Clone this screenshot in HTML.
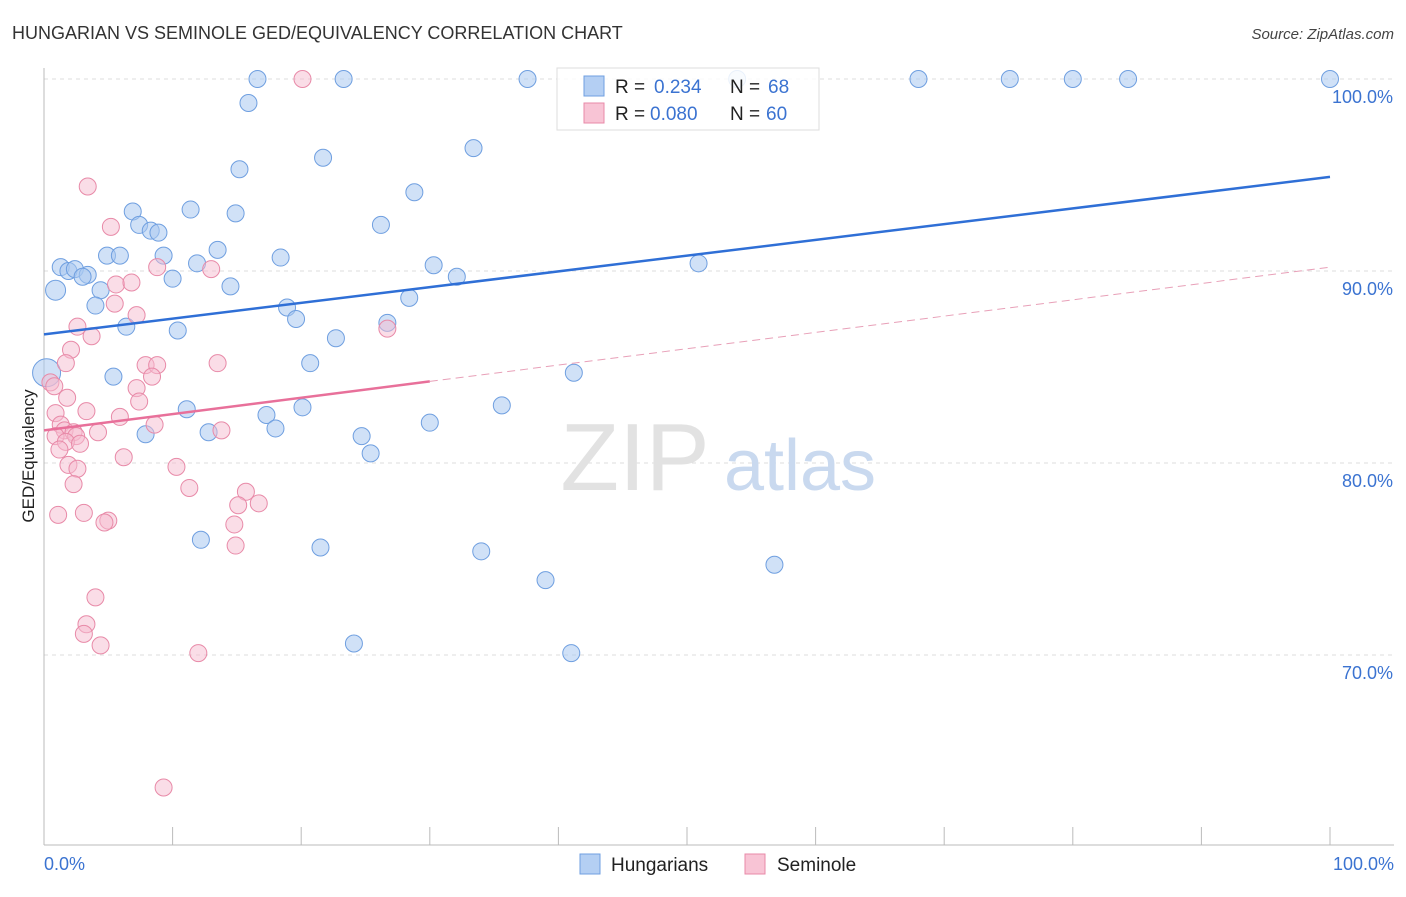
<!DOCTYPE html>
<html><head><meta charset="utf-8"><style>
body{margin:0;background:#fff;font-family:"Liberation Sans",sans-serif;}
svg text{font-family:"Liberation Sans",sans-serif;}
</style></head><body>
<svg id="chart" width="1406" height="892">
<text x="12" y="39" font-size="18" fill="#333">HUNGARIAN VS SEMINOLE GED/EQUIVALENCY CORRELATION CHART</text>
<text x="1394" y="39" font-size="15" fill="#444" text-anchor="end" font-style="italic">Source: ZipAtlas.com</text>
<g id="grid"></g>
<text x="635" y="490" font-size="96" fill="#e2e2e2" font-family="Liberation Serif" text-anchor="middle">ZIP</text>
<text x="800" y="490" font-size="72" fill="#c9d9ef" text-anchor="middle">atlas</text>
<g id="points"></g>
<g id="lines"></g>
<text x="34" y="456" font-size="17" fill="#222" text-anchor="middle" transform="rotate(-90 34 456)">GED/Equivalency</text>
<g>
<rect x="557" y="68" width="262" height="62" fill="#fff" fill-opacity="0.85" stroke="#ddd"/>
<rect x="584" y="76" width="20" height="20" fill="#b4cff3" stroke="#6f9fe0"/>
<rect x="584" y="103" width="20" height="20" fill="#f8c4d5" stroke="#e88aa8"/>
<text x="615" y="93" font-size="19" fill="#222">R = </text><text x="654" y="93" font-size="19" fill="#3b73d1">0.234</text>
<text x="730" y="93" font-size="19" fill="#222">N = </text><text x="768" y="93" font-size="19" fill="#3b73d1">68</text>
<text x="615" y="120" font-size="19" fill="#222">R = </text><text x="650" y="120" font-size="19" fill="#3b73d1">0.080</text>
<text x="730" y="120" font-size="19" fill="#222">N = </text><text x="766" y="120" font-size="19" fill="#3b73d1">60</text>
</g>
<g>
<rect x="580" y="854" width="20" height="20" fill="#b4cff3" stroke="#6f9fe0"/>
<text x="611" y="871" font-size="19" fill="#222">Hungarians</text>
<rect x="745" y="854" width="20" height="20" fill="#f8c4d5" stroke="#e88aa8"/>
<text x="777" y="871" font-size="19" fill="#222">Seminole</text>
</g>
</svg>
<script>
const yTicks=[100,90,80,70];
const xTickLabels=["0.0%","100.0%"];
const hunX=[16.6,23.3,37.6,53.9,68.0,75.1,80.0,84.3,100,15.9,33.4,21.7,15.2,28.8,6.9,11.4,14.9,7.4,26.2,8.3,8.9,13.5,4.9,5.9,9.3,18.4,1.3,1.9,2.4,3.4,3.0,11.9,30.3,50.9,10.0,32.1,0.9,4.4,14.5,28.4,4.0,18.9,19.6,6.4,10.4,26.7,22.7,20.7,5.4,41.2,0.2,35.6,11.1,17.3,20.1,30.0,18.0,12.8,7.9,24.7,25.4,12.2,21.5,34.0,39.0,56.8,24.1,41.0];
const hunY=[100,100,100,100,100,100,100,100,100,98.75,96.4,95.9,95.3,94.1,93.1,93.2,93.0,92.4,92.4,92.1,92.0,91.1,90.8,90.8,90.8,90.7,90.2,90.0,90.1,89.8,89.7,90.4,90.3,90.4,89.6,89.7,89.0,89.0,89.2,88.6,88.2,88.1,87.5,87.1,86.9,87.3,86.5,85.2,84.5,84.7,84.7,83.0,82.8,82.5,82.9,82.1,81.8,81.6,81.5,81.4,80.5,76.0,75.6,75.4,73.9,74.7,70.6,70.1];
const semX=[20.1,3.4,5.2,8.8,13.0,5.6,6.8,5.5,7.2,2.6,3.7,2.1,1.7,7.9,8.8,13.5,8.4,0.5,0.8,7.2,1.8,7.4,0.9,3.3,5.9,8.6,13.8,1.3,1.6,2.3,4.2,2.5,0.9,1.7,2.8,1.2,6.2,1.9,2.6,10.3,2.3,11.3,15.7,16.7,3.1,1.1,15.1,5.0,4.7,14.8,14.9,4.0,3.3,3.1,4.4,12.0,26.7,9.3];
const semY=[100,94.4,92.3,90.2,90.1,89.3,89.4,88.3,87.7,87.1,86.6,85.9,85.2,85.1,85.1,85.2,84.5,84.2,84.0,83.9,83.4,83.2,82.6,82.7,82.4,82.0,81.7,82.0,81.7,81.6,81.6,81.4,81.4,81.1,81.0,80.7,80.3,79.9,79.7,79.8,78.9,78.7,78.5,77.9,77.4,77.3,77.8,77.0,76.9,76.8,75.7,73.0,71.6,71.1,70.5,70.1,87.0,63.1];
const hunTrend=[86.7,94.9];
const semTrend=[81.7,90.2];
const semSolidEnd=30;
const X=v=>44+v*12.86, Y=v=>79+(100-v)*19.2;
const NS="http://www.w3.org/2000/svg";
function mk(t,a,p){const e=document.createElementNS(NS,t);for(const k in a)e.setAttribute(k,a[k]);p.appendChild(e);return e;}
const grid=document.getElementById('grid');
yTicks.forEach(t=>{
 const l=mk('line',{x1:44,x2:1394,y1:Y(t),y2:Y(t),stroke:'#ddd','stroke-dasharray':'4,4'},grid);
 
 
 const tx=mk('text',{x:1393,y:Y(t)+24,'font-size':18,fill:'#3b73d1','text-anchor':'end'},grid);
 tx.textContent=t.toFixed(1)+'%';
 
 
});
const ax=mk('line',{x1:44,x2:44,y1:68,y2:845,stroke:'#bbb'},grid);


const bx=mk('line',{x1:44,x2:1394,y1:845,y2:845,stroke:'#bbb'},grid);


for(let i=0;i<=10;i++){const t=mk('line',{x1:X(i*10),x2:X(i*10),y1:827,y2:845,stroke:'#bbb'},grid);
 
 }
[[0,'start',44],[1,'end',1394]].forEach(([i,a,x])=>{const t=mk('text',{x:x,y:870,'font-size':18,fill:'#3b73d1','text-anchor':a},grid);t.textContent=xTickLabels[i];
 
 });
const pts=document.getElementById('points');
hunX.forEach((v,i)=>{const big=(v<1.5&&(hunY[i]==89.0||hunY[i]==84.7));const c=mk('circle',{cx:X(v),cy:Y(hunY[i]),r:big?(hunY[i]==84.7?14:10):8.5,fill:'#a9c8f0','fill-opacity':0.55,stroke:'#6f9fe0','stroke-width':1},pts);
 
 });
semX.forEach((v,i)=>{const c=mk('circle',{cx:X(v),cy:Y(semY[i]),r:8.5,fill:'#f6bcd0','fill-opacity':0.5,stroke:'#e88aa8','stroke-width':1},pts);
 
 });
const ln=document.getElementById('lines');
const h=mk('line',{x1:X(0),y1:Y(hunTrend[0]),x2:X(100),y2:Y(hunTrend[1]),stroke:'#2f6fd6','stroke-width':2.5},ln);


const sy=semTrend[0]+(semTrend[1]-semTrend[0])*semSolidEnd/100;
const s1=mk('line',{x1:X(0),y1:Y(semTrend[0]),x2:X(semSolidEnd),y2:Y(sy),stroke:'#e8709a','stroke-width':2.5},ln);


const s2=mk('line',{x1:X(semSolidEnd),y1:Y(sy),x2:X(100),y2:Y(semTrend[1]),stroke:'#e8a0b8','stroke-width':1,'stroke-dasharray':'8,5'},ln);


</script>
</body></html>
